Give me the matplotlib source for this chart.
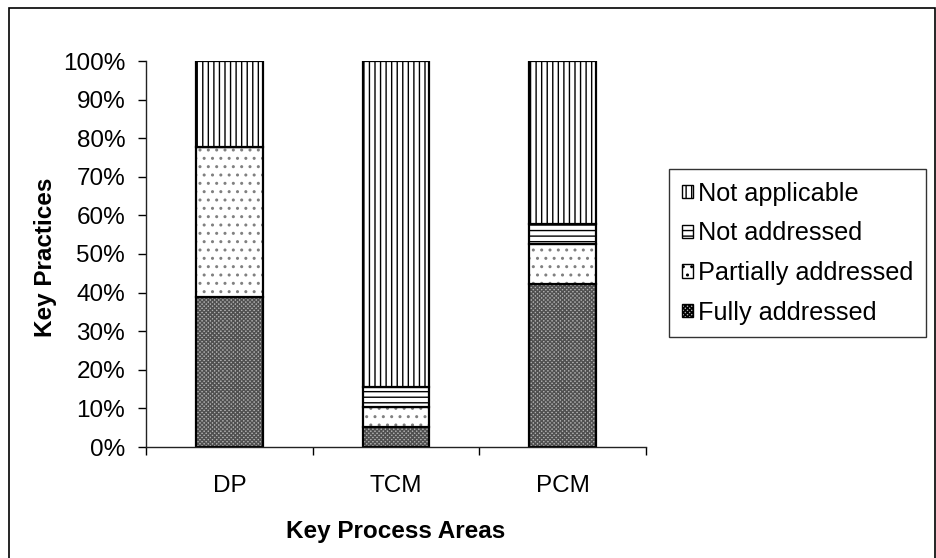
import matplotlib
matplotlib.use("Agg")
import matplotlib.pyplot as plt
from matplotlib.patches import Patch, Rectangle
import numpy as np

plt.rcParams['font.family'] = ['Liberation Sans', 'DejaVu Sans']
plt.rcParams['hatch.linewidth'] = 1.0

# доли ключевых практик по областям процессов, %
areas = ['DP', 'TCM', 'PCM']
fully = [38.9, 5.2, 42.1]
partially = [38.9, 5.2, 10.5]
not_addressed = [0.0, 5.2, 5.3]
not_applicable = [22.2, 84.4, 42.1]

series = [
    ('Fully addressed', fully, '#b0b0b0', '#505050', 'xxxxxxxx'),
    ('Partially addressed', partially, 'white', '#808080', '..'),
    ('Not addressed', not_addressed, 'white', 'black', '---'),
    ('Not applicable', not_applicable, 'white', 'black', '|||'),
]

fs = 17.5

fig = plt.figure(figsize=(9.37, 5.58), dpi=100)
ax = fig.add_axes([146 / 937, 1 - 447 / 558, 500 / 937, 386 / 558])

x = np.arange(len(areas))
width = 0.4
bottom = np.zeros(len(areas))
handles = []
for name, vals, face, hcol, hatch in series:
    vals = np.array(vals)
    # сначала заливка со штриховкой, потом чёрный контур поверх
    ax.bar(x, vals, width, bottom=bottom, color=face, edgecolor=hcol,
           hatch=hatch, linewidth=0)
    ax.bar(x, vals, width, bottom=bottom, fill=False, edgecolor='black',
           linewidth=1.6)
    handles.append(Patch(facecolor=face, edgecolor='black', hatch=hatch,
                         linewidth=1.0, label=name))
    bottom += vals

ax.set_xlim(-0.5, 2.5)
ax.set_ylim(0, 100)
ax.set_yticks(np.arange(0, 101, 10))
ax.set_yticklabels(['{}%'.format(v) for v in range(0, 101, 10)])
ax.set_xticks(x)
ax.set_xticklabels(areas)
ax.set_xticks(np.arange(-0.5, 2.6, 1), minor=True)
ax.tick_params(axis='x', which='major', length=0, pad=20, labelsize=fs)
ax.tick_params(axis='x', which='minor', length=6, width=1, direction='out')
ax.tick_params(axis='y', length=6, width=1, direction='out', pad=9, labelsize=fs)

for side in ['top', 'right']:
    ax.spines[side].set_visible(False)
for side in ['left', 'bottom']:
    ax.spines[side].set_linewidth(1)
    ax.spines[side].set_color('#222222')

fig.text(46 / 937, 1 - 257 / 558, 'Key Practices', rotation=90,
         ha='center', va='center', fontsize=fs, fontweight='bold')
fig.text(396 / 937, 1 - 538 / 558, 'Key Process Areas',
         ha='center', va='baseline', fontsize=fs, fontweight='bold')

leg = fig.legend(handles=handles[::-1], loc='upper left',
                 bbox_to_anchor=(669 / 937, 1 - 169 / 558),
                 fontsize=18.2, frameon=True, fancybox=False,
                 handlelength=0.45, handleheight=0.45, handletextpad=0.2,
                 labelspacing=0.62, borderpad=0.5, borderaxespad=0)
leg.get_frame().set_edgecolor('black')
leg.get_frame().set_linewidth(1)

# рамка вокруг всей диаграммы
fig.patches.append(Rectangle((9 / 937, -0.1), 926 / 937, 1.1 - 8 / 558,
                             transform=fig.transFigure, fill=False,
                             edgecolor='black', linewidth=1.2))

fig.savefig('out.png', dpi=100)
